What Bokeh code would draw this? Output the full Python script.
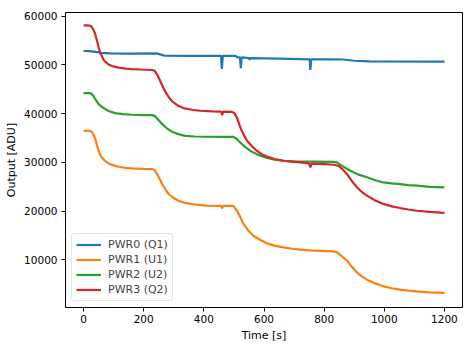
from bokeh.plotting import figure
from bokeh.models import Range1d, FixedTicker, Legend, LegendItem
from bokeh.embed import file_html
from bokeh.resources import INLINE

# ---- data ----
t_pwr0 = [0, 20, 40, 60, 89, 150, 244, 255, 270, 350, 457, 460, 463, 505, 510, 520, 523, 526,
          550, 552, 554, 650, 752, 754, 757, 820, 863, 900, 950, 1200]
v_pwr0 = [52850, 52830, 52650, 52450, 52340, 52300, 52340, 52150, 51870, 51850, 51850, 49150, 51850,
          51850, 51600, 51550, 49350, 51550, 51400, 51000, 51400, 51300, 51150, 48950, 51150,
          51150, 51100, 50850, 50700, 50680]

t_pwr1 = [0, 20, 28, 33, 39, 45, 50, 55, 61, 72, 83, 100, 116, 140, 161, 200, 227, 236, 245, 253,
          261, 272, 283, 300, 316, 338, 360, 405, 458, 461, 464, 498, 510, 521, 532, 548, 565, 588,
          610, 635, 665, 690, 720, 770, 831, 842, 858, 876, 892, 909, 925, 942, 970, 997, 1025,
          1053, 1080, 1108, 1150, 1200]
v_pwr1 = [36500, 36480, 36300, 35700, 34800, 33500, 32400, 31600, 31030, 30300, 29800, 29400, 29120,
          28900, 28780, 28700, 28650, 28450, 27600, 26600, 25580, 24500, 23530, 22700, 22160, 21700,
          21480, 21130, 21100, 20600, 21100, 21100, 20100, 18800, 17400, 16000, 14980, 14100, 13410,
          12950, 12590, 12350, 12110, 11900, 11770, 11600, 10800, 9860, 8600, 7460, 6650, 5970,
          5200, 4600, 4200, 3920, 3720, 3570, 3380, 3240]

t_pwr2 = [0, 20, 26, 32, 39, 45, 50, 61, 72, 83, 105, 130, 161, 200, 227, 236, 245, 261, 277, 294,
          315, 338, 370, 405, 460, 498, 510, 521, 537, 554, 580, 610, 635, 665, 700, 760, 831, 842,
          860, 887, 915, 942, 970, 997, 1025, 1053, 1080, 1108, 1150, 1200]
v_pwr2 = [44220, 44200, 44100, 43700, 43000, 42400, 41950, 41400, 40950, 40550, 40120, 39900, 39780,
          39720, 39700, 39550, 39000, 37900, 37000, 36300, 35800, 35450, 35320, 35270, 35250, 35250,
          34800, 34100, 33200, 32400, 31550, 30900, 30550, 30350, 30200, 30150, 30100, 30000, 29300,
          28300, 27500, 26950, 26350, 25900, 25700, 25550, 25350, 25230, 25000, 24880]

t_pwr3 = [0, 10, 20, 26, 32, 39, 45, 50, 55, 61, 67, 75, 83, 95, 116, 140, 161, 190, 227, 236, 245,
          255, 265, 277, 288, 299, 315, 332, 360, 388, 430, 458, 461, 464, 493, 500, 510, 521, 532,
          543, 560, 576, 592, 610, 635, 665, 690, 720, 750, 754, 758, 800, 831, 848, 860, 876, 892,
          909, 925, 942, 970, 997, 1025, 1053, 1080, 1108, 1150, 1200]
v_pwr3 = [58100, 58100, 58050, 57900, 57300, 56300, 54900, 53600, 52500, 51800, 51000, 50500, 50100,
          49750, 49450, 49250, 49150, 49050, 48950, 48800, 48000, 46700, 45300, 44000, 43000, 42300,
          41600, 41150, 40800, 40600, 40450, 40400, 39700, 40400, 40350, 40200, 39200, 37200, 35700,
          34500, 33300, 32400, 31700, 31200, 30700, 30350, 30150, 30000, 29800, 29000, 29750, 29650,
          29530, 29300, 28700, 27600, 26200, 24900, 23950, 23200, 22200, 21500, 21000, 20650, 20350,
          20100, 19850, 19650]

labels = ["PWR0 (Q1)", "PWR1 (U1)", "PWR2 (U2)", "PWR3 (Q2)"]
colors = ["#1f77b4", "#ff7f0e", "#2ca02c", "#d62728"]
x_ticks = [0, 200, 400, 600, 800, 1000, 1200]
y_ticks = [10000, 20000, 30000, 40000, 50000, 60000]

FONT = "DejaVu Sans"
FS_TICK = "10.5px"
FS_LABEL = "11px"

p = figure(width=473, height=347, output_backend="svg", toolbar_location=None,
           x_range=Range1d(-60, 1260), y_range=Range1d(260, 60740),
           min_border_left=65, min_border_right=11, min_border_top=12, min_border_bottom=40)

series = [(t_pwr0, v_pwr0), (t_pwr1, v_pwr1), (t_pwr2, v_pwr2), (t_pwr3, v_pwr3)]
renderers = []
for (tt, vv), c in zip(series, colors):
    r = p.line(tt, vv, line_color=c, line_width=2.2)
    renderers.append(r)

p.xgrid.visible = False
p.ygrid.visible = False
p.outline_line_color = "black"
p.outline_line_width = 1
p.background_fill_color = "white"
p.border_fill_color = "white"

for ax in (p.xaxis[0], p.yaxis[0]):
    ax.major_tick_in = 0
    ax.major_tick_out = 4
    ax.minor_tick_out = 0
    ax.minor_tick_in = 0
    ax.axis_line_color = None
    ax.major_tick_line_color = "black"
    ax.major_label_text_font = FONT
    ax.major_label_text_font_size = FS_TICK
    ax.major_label_text_color = "black"
    ax.axis_label_text_font = FONT
    ax.axis_label_text_font_size = FS_LABEL
    ax.axis_label_text_font_style = "normal"
    ax.axis_label_text_color = "black"

p.xaxis[0].ticker = FixedTicker(ticks=x_ticks)
p.yaxis[0].ticker = FixedTicker(ticks=y_ticks)
p.xaxis[0].axis_label = "Time [s]"
p.yaxis[0].axis_label = "Output [ADU]"
p.xaxis[0].major_label_standoff = 3
p.yaxis[0].major_label_standoff = 4
p.xaxis[0].axis_label_standoff = 3
p.yaxis[0].axis_label_standoff = 3

legend = Legend(items=[LegendItem(label=l, renderers=[r]) for l, r in zip(labels, renderers)],
                location="bottom_left")
legend.margin = 6
legend.padding = 4
legend.spacing = 2
legend.label_height = 13
legend.glyph_height = 13
legend.glyph_width = 25
legend.label_standoff = 7
legend.label_text_font = FONT
legend.label_text_font_size = FS_LABEL
legend.border_line_color = "#cccccc"
legend.border_line_width = 1
legend.background_fill_alpha = 0.8
legend.border_radius = 3
p.add_layout(legend)

open("out.html", "w").write(file_html(p, INLINE))
